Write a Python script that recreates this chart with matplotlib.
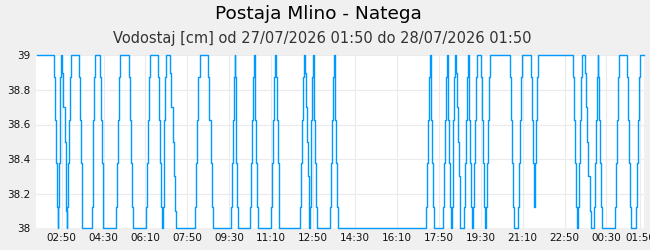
import matplotlib
matplotlib.use("Agg")
import matplotlib.pyplot as plt

# minutes after 27/07/2026 01:50 where the level changes, and the new level [cm]
minutes = [
    0, 40.8, 43.2, 45.6, 48.0, 50.4,
    52.0, 53.5, 55.1, 56.7, 59.1,
    61.5, 63.9, 67.1, 69.5, 71.0, 71.8,
    73.4, 75.8, 77.4, 79.0, 81.4,
    100.5, 102.9, 105.3, 107.6, 109.2,
    131.5, 133.9, 135.5, 137.9, 140.2,
    150.6, 153.0, 155.4, 157.8, 159.3,
    190.4, 192.7, 195.1, 197.5, 199.9,
    220.6, 223.8, 226.2, 228.5, 230.9,
    260.4, 262.8, 265.1, 267.5, 269.9,
    290.6, 293.0, 295.4, 297.7, 300.1,
    301.7, 303.3, 304.9, 307.3, 309.7,
    319.2, 321.6, 324.8, 327.2, 330.4, 332.0,
    378.9, 381.3, 383.6, 386.0, 389.2,
    409.9, 412.3, 415.5, 417.9, 420.2,
    464.0, 466.4, 468.8, 471.2, 472.8,
    473.5, 475.1, 476.7, 478.3, 479.9,
    510.1, 512.5, 514.9, 517.3, 519.7,
    520.5, 522.1, 524.4, 526.8, 528.4,
    560.2, 562.6, 565.0, 567.4, 569.8,
    570.6, 573.0, 575.4, 577.7, 579.3,
    629.4, 631.8, 634.2, 636.6, 639.0,
    639.8, 642.2, 644.6, 647.0, 649.3, 650.9,
    652.5, 654.1, 655.7, 658.1, 660.5,
    661.3, 662.8, 665.2, 667.6, 670.0,
    701.0, 703.4, 705.8, 708.2, 710.6,
    711.4, 713.0, 715.3, 717.7, 720.1,
    930.1, 932.5, 934.9, 937.3, 939.7,
    940.5, 942.0, 944.4, 946.8, 949.2,
    970.7, 973.1, 975.5, 977.8, 980.2,
    981.0, 982.6, 985.0, 987.4, 989.8,
    991.4, 993.0, 994.5, 996.9, 999.3,
    1000.1, 1002.5, 1004.9, 1007.3, 1009.7, 1011.2,
    1020.8, 1023.2, 1025.6, 1028.0, 1030.4,
    1031.2, 1032.7, 1035.1, 1037.5, 1039.9,
    1041.5, 1043.1, 1045.5, 1047.8, 1050.2,
    1060.6, 1063.0, 1065.4, 1067.7, 1070.1,
    1071.7, 1074.1, 1076.5, 1078.9, 1081.3,
    1130.6, 1132.9, 1135.3, 1137.7, 1140.1,
    1149.6, 1152.0, 1154.4, 1156.8, 1159.2,
    1179.9, 1182.3, 1184.7, 1187.1,
    1190.2, 1192.6, 1195.0, 1197.4,
    1280.1, 1282.5, 1284.9, 1287.3, 1289.7,
    1292.0, 1294.4, 1296.0, 1298.4, 1300.8,
    1309.5, 1311.9, 1314.3, 1316.7, 1319.9, 1322.3,
    1330.2, 1332.6, 1335.0, 1337.4, 1339.8,
    1340.5, 1342.9, 1345.3, 1347.7, 1350.1,
    1381.1, 1383.5, 1385.9, 1388.3, 1390.6,
    1409.7, 1412.1, 1414.5, 1416.9, 1419.3,
    1431.2, 1433.6, 1436.0, 1438.4, 1440.8,
    1449,
]
level = [
    39, 38.875, 38.625, 38.375, 38.125, 38,
    38.125, 38.375, 38.625, 38.875, 39,
    38.9, 38.7, 38.5, 38.3, 38.1, 38,
    38.125, 38.375, 38.625, 38.875, 39,
    38.875, 38.625, 38.375, 38.125, 38,
    38.125, 38.375, 38.625, 38.875, 39,
    38.875, 38.625, 38.375, 38.125, 38,
    38.125, 38.375, 38.625, 38.875, 39,
    38.875, 38.625, 38.375, 38.125, 38,
    38.125, 38.375, 38.625, 38.875, 39,
    38.875, 38.625, 38.375, 38.125, 38,
    38.125, 38.375, 38.625, 38.875, 39,
    38.9, 38.7, 38.5, 38.3, 38.1, 38,
    38.125, 38.375, 38.625, 38.875, 39,
    38.875, 38.625, 38.375, 38.125, 38,
    38.125, 38.375, 38.625, 38.875, 39,
    38.875, 38.625, 38.375, 38.125, 38,
    38.125, 38.375, 38.625, 38.875, 39,
    38.875, 38.625, 38.375, 38.125, 38,
    38.125, 38.375, 38.625, 38.875, 39,
    38.875, 38.625, 38.375, 38.125, 38,
    38.125, 38.375, 38.625, 38.875, 39,
    38.9, 38.7, 38.5, 38.3, 38.1, 38,
    38.125, 38.375, 38.625, 38.875, 39,
    38.875, 38.625, 38.375, 38.125, 38,
    38.125, 38.375, 38.625, 38.875, 39,
    38.875, 38.625, 38.375, 38.125, 38,
    38.125, 38.375, 38.625, 38.875, 39,
    38.875, 38.625, 38.375, 38.125, 38,
    38.125, 38.375, 38.625, 38.875, 39,
    38.875, 38.625, 38.375, 38.125, 38,
    38.125, 38.375, 38.625, 38.875, 39,
    38.9, 38.7, 38.5, 38.3, 38.1, 38,
    38.125, 38.375, 38.625, 38.875, 39,
    38.875, 38.625, 38.375, 38.125, 38,
    38.125, 38.375, 38.625, 38.875, 39,
    38.875, 38.625, 38.375, 38.125, 38,
    38.125, 38.375, 38.625, 38.875, 39,
    38.875, 38.625, 38.375, 38.125, 38,
    38.125, 38.375, 38.625, 38.875, 39,
    38.875, 38.625, 38.375, 38.125,
    38.375, 38.625, 38.875, 39,
    38.875, 38.625, 38.375, 38.125, 38,
    38.125, 38.375, 38.625, 38.875, 39,
    38.9, 38.7, 38.5, 38.3, 38.1, 38,
    38.125, 38.375, 38.625, 38.875, 39,
    38.875, 38.625, 38.375, 38.125, 38,
    38.125, 38.375, 38.625, 38.875, 39,
    38.875, 38.625, 38.375, 38.125, 38,
    38.125, 38.375, 38.625, 38.875, 39,
    39,
]

x_ticks = [60, 160, 260, 360, 460, 560, 660, 760, 860, 960, 1060, 1160, 1260, 1360, 1440]
x_labels = ['02:50', '04:30', '06:10', '07:50', '09:30', '11:10', '12:50', '14:30',
            '16:10', '17:50', '19:30', '21:10', '22:50', '00:30', '01:50']
y_ticks = [38, 38.2, 38.4, 38.6, 38.8, 39]
y_labels = ['38', '38.2', '38.4', '38.6', '38.8', '39']

title = "Postaja Mlino - Natega"
subtitle = "Vodostaj [cm] od 27/07/2026 01:50 do 28/07/2026 01:50"

W, H = 650, 250
fig = plt.figure(figsize=(W / 100, H / 100), dpi=100, facecolor='#f0f0f0')
# plot area in pixels: left 35.7, right 643.7, top 55.3, bottom 228.3
ax = fig.add_axes([35.7 / W, 1 - 228.3 / H, (643.7 - 35.7) / W, (228.3 - 55.3) / H])
ax.set_facecolor('white')

ax.step(minutes, level, where='post', color='#0099ff', lw=1.0, clip_on=False, zorder=3)

ax.set_xlim(-2, 1449)
ax.set_ylim(38, 39)
ax.set_xticks(x_ticks)
ax.set_xticklabels(x_labels)
ax.set_yticks(y_ticks)
ax.set_yticklabels(y_labels)
ax.tick_params(length=0, labelsize=7.5, pad=3.5, colors='#111111')
for s in ax.spines.values():
    s.set_visible(False)
ax.grid(color='#ebebeb', lw=0.8)
ax.set_axisbelow(True)

fig.text(0.49, 1 - 14 / H, title, ha='center', va='center', fontsize=13.3, color='black')
fig.text(0.496, 1 - 39 / H, subtitle, ha='center', va='center', fontsize=10.5, color='#333333')

fig.savefig('out.png', dpi=100, facecolor=fig.get_facecolor())
